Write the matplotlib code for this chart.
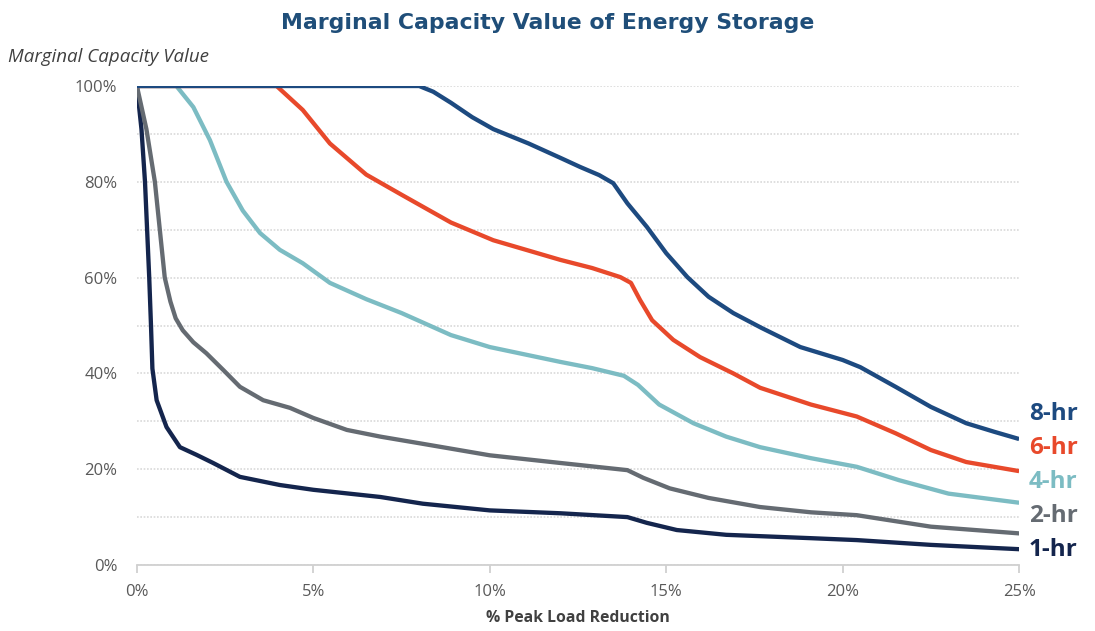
import matplotlib
matplotlib.use("Agg")
import matplotlib.pyplot as plt
from matplotlib.ticker import MultipleLocator, FuncFormatter

# % peak load reduction vs marginal capacity value
x_8hr = [0, 8.0, 8.4, 8.9, 9.5, 10.1, 11.1, 12.0, 12.56, 13.1, 13.5, 13.9, 14.45, 15.0, 15.6, 16.2, 16.9, 17.7, 18.8, 20.0, 20.5, 21.5, 22.5, 23.5, 24.3, 25]
y_8hr = [100, 100, 98.8, 96.5, 93.5, 91, 88, 85, 83.1, 81.4, 79.7, 75.5, 70.6, 65.1, 60.1, 56, 52.6, 49.5, 45.5, 42.8, 41.3, 37.2, 33, 29.6, 27.8, 26.3]

x_6hr = [0, 3.96, 4.7, 5.47, 6.5, 7.5, 8.9, 10.1, 12.0, 12.9, 13.7, 14.0, 14.26, 14.6, 15.2, 15.96, 16.9, 17.66, 19.1, 20.4, 21.5, 22.5, 23.5, 25]
y_6hr = [100, 100, 95, 88, 81.5, 77.3, 71.5, 67.8, 63.7, 62, 60.1, 58.9, 55.3, 51.1, 47, 43.4, 40, 37, 33.5, 31, 27.5, 24, 21.5, 19.6]

x_4hr = [0, 1.12, 1.6, 2.07, 2.54, 3.0, 3.49, 4.05, 4.7, 5.47, 6.5, 7.5, 8.9, 10.0, 12.0, 12.9, 13.8, 14.2, 14.8, 15.77, 16.7, 17.66, 19.1, 20.4, 21.6, 23.0, 25]
y_4hr = [100, 100, 95.6, 88.7, 80, 74, 69.3, 65.8, 63, 58.9, 55.5, 52.6, 48, 45.5, 42.4, 41.1, 39.5, 37.6, 33.5, 29.6, 26.8, 24.6, 22.3, 20.5, 17.7, 14.9, 13]

x_2hr = [0, 0.27, 0.51, 0.65, 0.79, 0.95, 1.1, 1.3, 1.6, 1.97, 2.45, 2.92, 3.58, 4.34, 5.0, 5.95, 6.9, 8.1, 10.0, 12.0, 13.9, 14.35, 15.1, 16.2, 17.66, 19.1, 20.4, 22.5, 25]
y_2hr = [100, 91, 80, 70, 60, 55, 51.5, 49, 46.5, 44.2, 40.7, 37.2, 34.4, 32.8, 30.7, 28.2, 26.8, 25.3, 22.9, 21.3, 19.8, 18.2, 16, 14, 12.1, 11, 10.4, 8, 6.6]

x_1hr = [0, 0.13, 0.23, 0.29, 0.35, 0.4, 0.44, 0.56, 0.84, 1.22, 1.69, 2.16, 2.92, 4.05, 5.0, 6.9, 8.1, 10.0, 12.0, 13.9, 14.45, 15.3, 16.7, 19.1, 20.4, 22.5, 25]
y_1hr = [100, 91, 80, 70, 60, 50, 41, 34.4, 28.8, 24.6, 23, 21.3, 18.4, 16.7, 15.7, 14.2, 12.8, 11.4, 10.8, 10, 8.8, 7.3, 6.3, 5.6, 5.2, 4.2, 3.3]

labels = ["8-hr", "6-hr", "4-hr", "2-hr", "1-hr"]
colors = ["#1d4a80", "#e8492b", "#7cbcc3", "#656b72", "#14254d"]

fig = plt.figure(figsize=(10.95, 6.31), dpi=100)
ax = fig.add_axes([0.125, 0.1046, 0.8057, 0.7591])

series = [(x_1hr, y_1hr), (x_2hr, y_2hr), (x_4hr, y_4hr), (x_6hr, y_6hr), (x_8hr, y_8hr)]
# draw 1-hr first so 8-hr sits on top along the 100% line
for (xs, ys), c in zip(series, colors[::-1]):
    ax.plot(xs, ys, color=c, lw=3.1, solid_joinstyle="round", solid_capstyle="butt", zorder=3)

ax.set_xlim(0, 25)
ax.set_ylim(0, 100)
ax.xaxis.set_major_locator(MultipleLocator(5))
ax.yaxis.set_major_locator(MultipleLocator(20))
ax.yaxis.set_minor_locator(MultipleLocator(10))
pct = FuncFormatter(lambda v, p: f"{v:.0f}%")
ax.xaxis.set_major_formatter(pct)
ax.yaxis.set_major_formatter(pct)

ax.grid(axis="y", which="both", color="#d9d9d9", lw=1.2, ls=(0, (1, 1)), zorder=0)
for s in ["top", "right", "left"]:
    ax.spines[s].set_visible(False)
ax.spines["bottom"].set_color("#d0d0d0")
ax.spines["bottom"].set_linewidth(1.3)
ax.tick_params(axis="x", colors="#d0d0d0", length=6, width=1.3, labelcolor="#595959", labelsize=12, pad=8)
ax.tick_params(axis="y", which="both", length=0, labelcolor="#595959", labelsize=12, pad=14)

for t in ax.get_xticklabels() + ax.get_yticklabels():
    t.set_fontfamily("Open Sans")

ax.set_xlabel("% Peak Load Reduction", fontsize=11.3, fontweight="bold", color="#404040",
              family="Open Sans", labelpad=7)

fig.text(0.5, 0.963, "Marginal Capacity Value of Energy Storage", ha="center", va="center",
         fontsize=15.8, fontweight="bold", color="#1f4e79", family="DejaVu Sans")
fig.text(0.007, 0.909, "Marginal Capacity Value", ha="left", va="center", fontsize=13.5,
         style="italic", color="#404040", family="Open Sans")

# end labels at the right edge
label_y = [414, 448, 482, 516, 550]
for lab, c, py in zip(labels, colors, label_y):
    fig.text(1029 / 1095, 1 - py / 631, lab, ha="left", va="center", fontsize=17.5,
             fontweight="bold", color=c, family="Open Sans")

fig.savefig("out.png", dpi=100)
